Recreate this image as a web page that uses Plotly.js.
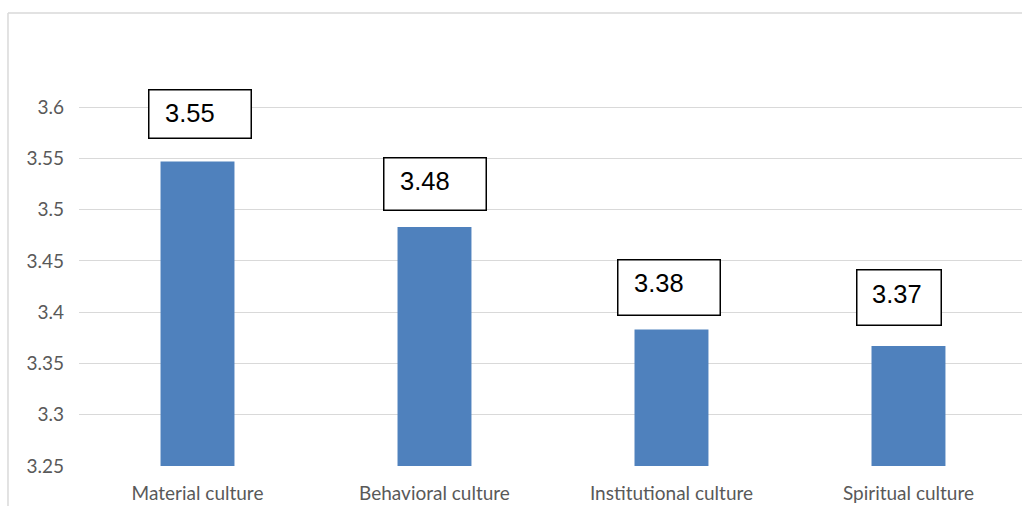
<!DOCTYPE html>
<html>
<head>
<meta charset="utf-8">
<script src="https://cdn.plot.ly/plotly-3.0.1.min.js"></script>
<style>html,body{margin:0;padding:0;background:#fff;}#chart{width:1022px;height:506px;}</style>
</head>
<body>
<div id="chart"></div>
<script>
const categories = ["Material culture", "Behavioral culture", "Institutional culture", "Spiritual culture"];
const values = [3.547, 3.483, 3.383, 3.367];
const labels = ["3.55", "3.48", "3.38", "3.37"];
const yTickVals = [3.25, 3.3, 3.35, 3.4, 3.45, 3.5, 3.55, 3.6];
const yTickText = ["3.25", "3.3", "3.35", "3.4", "3.45", "3.5", "3.55", "3.6"];

// label box styling (pixel offsets relative to each bar top/center)
const boxStyle = [
  {w: 104, h: 50, dx: -50, dy: 22, tx: -35, ty: 48},
  {w: 104, h: 54, dx: -51, dy: 16, tx: -36, ty: 46},
  {w: 104, h: 57, dx: -54, dy: 14, tx: -39, ty: 47},
  {w: 86,  h: 57, dx: -52, dy: 20, tx: -38, ty: 52}
];

const annotations = [];
categories.forEach((c, i) => {
  const s = boxStyle[i];
  annotations.push({
    x: c, y: values[i], xref: 'x', yref: 'y',
    xanchor: 'left', yanchor: 'bottom',
    xshift: s.dx, yshift: s.dy,
    text: '&nbsp;', showarrow: false,
    width: s.w - 3, height: s.h - 3, borderpad: 0,
    bordercolor: '#000000', borderwidth: 1.5, bgcolor: '#ffffff',
    font: {family: 'Liberation Sans, Arial, sans-serif', size: 10}
  });
  annotations.push({
    x: c, y: values[i], xref: 'x', yref: 'y',
    xanchor: 'left', yanchor: 'middle',
    xshift: s.tx, yshift: s.ty,
    text: labels[i], showarrow: false,
    font: {family: 'Liberation Sans, Arial, sans-serif', size: 25.5, color: '#000000'}
  });
});

const trace = {
  type: 'bar',
  x: categories,
  y: values,
  marker: {color: '#4f81bd'},
  hoverinfo: 'skip'
};

const layout = {
  width: 1022, height: 506,
  margin: {l: 79, r: 0, t: 13, b: 40, pad: 0},
  paper_bgcolor: '#ffffff', plot_bgcolor: '#ffffff',
  showlegend: false,
  bargap: 0.688,
  xaxis: {
    type: 'category',
    range: [-0.5, 3.479],
    showgrid: false, zeroline: false, showline: false,
    ticks: '', ticklabelstandoff: 14,
    tickfont: {family: 'Lato, Carlito, sans-serif', size: 19, color: '#595959'}
  },
  yaxis: {
    range: [3.25, 3.6917],
    tickvals: yTickVals, ticktext: yTickText,
    showgrid: true, gridcolor: '#d9d9d9', gridwidth: 1,
    zeroline: false, showline: false, ticks: '',
    ticklabelstandoff: 14,
    tickfont: {family: 'Lato, Carlito, sans-serif', size: 19, color: '#595959'}
  },
  annotations: annotations,
  shapes: [
    {type: 'line', xref: 'paper', yref: 'paper', x0: -0.0753, x1: 1.05, y0: 1, y1: 1,
     line: {color: '#d9d9d9', width: 1.5}},
    {type: 'line', xref: 'paper', yref: 'paper', x0: -0.0753, x1: -0.0753, y0: 1, y1: -0.2,
     line: {color: '#d9d9d9', width: 1.5}}
  ]
};

Plotly.newPlot('chart', [trace], layout, {displayModeBar: false, staticPlot: true});
</script>
</body>
</html>
